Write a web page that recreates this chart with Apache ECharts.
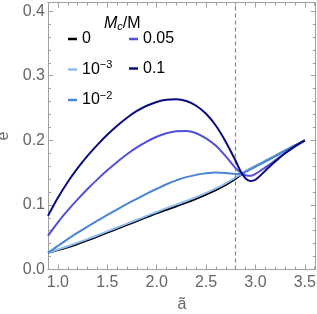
<!DOCTYPE html>
<html><head><meta charset="utf-8">
<script src="https://cdn.jsdelivr.net/npm/echarts@6/dist/echarts.min.js"></script>
<style>html,body{margin:0;padding:0;background:#fff}#c{width:317px;height:314px}</style>
</head><body><div id="c"></div>
<script>
// x values (ã)
const aTilde = [0.9,1.0,1.1,1.2,1.3,1.4,1.5,1.6,1.7,1.8,1.9,2.0,2.1,2.2,2.3,2.4,2.5,2.6,2.7,2.8,2.85,2.9,2.95,3.0,3.1,3.2,3.3,3.4,3.5];
// e values for each Mc/M
const e_0     = [0.026,0.030,0.0345,0.0395,0.045,0.051,0.057,0.063,0.069,0.075,0.081,0.087,0.0925,0.098,0.1035,0.1095,0.116,0.123,0.131,0.1405,0.146,0.152,0.156,0.160,0.168,0.176,0.184,0.192,0.200];
const e_1em3  = [0.026,0.031,0.036,0.0415,0.047,0.053,0.059,0.065,0.071,0.077,0.083,0.089,0.095,0.1005,0.106,0.112,0.1185,0.1255,0.1335,0.1425,0.147,0.152,0.156,0.160,0.168,0.176,0.184,0.192,0.200];
const e_1em2  = [0.026,0.0365,0.047,0.057,0.0665,0.0755,0.0845,0.093,0.1015,0.1095,0.1175,0.125,0.132,0.138,0.143,0.1465,0.149,0.150,0.1495,0.148,0.148,0.151,0.155,0.159,0.167,0.175,0.184,0.192,0.200];
const e_005   = [0.052,0.073,0.0915,0.1085,0.1245,0.1395,0.1535,0.1665,0.1785,0.189,0.198,0.2055,0.211,0.214,0.2145,0.211,0.203,0.1915,0.175,0.157,0.150,0.146,0.145,0.148,0.158,0.169,0.180,0.190,0.200];
const e_01    = [0.083,0.111,0.1355,0.157,0.176,0.193,0.2085,0.2225,0.235,0.2455,0.2535,0.2593,0.2627,0.2635,0.2608,0.2535,0.241,0.2225,0.1975,0.168,0.152,0.141,0.137,0.139,0.153,0.167,0.180,0.191,0.200];
const seriesNames = ['0','1e-3','1e-2','0.05','0.1'];
const seriesLabels = {'0':'0','1e-3':'10{sup|−3}','1e-2':'10{sup|−2}','0.05':'0.05','0.1':'0.1'};
const seriesColors = ['#000000','#8fbdf3','#4a86d6','#5150d9','#0b0b7e'];
const dashedX = 2.8;
const xMajor = [1.0,1.5,2.0,2.5,3.0,3.5];
const xMinor = [0.9,1.0,1.1,1.2,1.3,1.4,1.5,1.6,1.7,1.8,1.9,2.0,2.1,2.2,2.3,2.4,2.5,2.6,2.7,2.8,2.9,3.0,3.1,3.2,3.3,3.4,3.5,3.6];
const yMajor = [0,0.1,0.2,0.3,0.4];
const yMinor = [0,0.02,0.04,0.06,0.08,0.1,0.12,0.14,0.16,0.18,0.2,0.22,0.24,0.26,0.28,0.3,0.32,0.34,0.36,0.38,0.4];
const xMin = 0.9, xMax = 3.61, yMin = 0, yMax = 0.413;

const frame = '#a0a0a0';
const labelColor = '#666666';
const font = 'Liberation Sans';

function axis(kind, pos, vals, len, labels) {
  const ax = {
    type: 'value', position: pos,
    min: kind === 'x' ? xMin : yMin, max: kind === 'x' ? xMax : yMax,
    axisLine: {show: true, onZero: false, lineStyle: {color: frame, width: 1}},
    axisTick: {show: true, inside: true, length: len, customValues: vals, lineStyle: {color: frame, width: 1}},
    splitLine: {show: false},
    axisLabel: {show: false}
  };
  if (labels) {
    ax.axisLabel = {show: true, customValues: vals, color: labelColor, fontSize: 16, fontFamily: font,
      margin: kind === 'x' ? 5 : 3, formatter: v => Number(v).toFixed(1)};
    if (kind === 'x') {
      ax.name = 'ã'; ax.nameLocation = 'middle'; ax.nameGap = 27;
      ax.nameTextStyle = {color: labelColor, fontSize: 16, fontFamily: font};
    } else {
      ax.name = 'e'; ax.nameLocation = 'middle'; ax.nameGap = 35; ax.nameRotate = 90;
      ax.nameTextStyle = {color: labelColor, fontSize: 16, fontFamily: font};
    }
  }
  return ax;
}

const dataSets = [e_0, e_1em3, e_1em2, e_005, e_01];
const series = dataSets.map((arr, i) => ({
  name: seriesNames[i], type: 'line', xAxisIndex: 0, yAxisIndex: 0,
  data: aTilde.map((x, j) => [x, arr[j]]),
  showSymbol: false, smooth: 0.4, color: seriesColors[i],
  lineStyle: {width: 2, color: seriesColors[i]}, z: 2 + i,
  markLine: i === 0 ? {silent: true, symbol: 'none', label: {show: false},
    lineStyle: {color: '#888888', type: [4, 3], width: 1.2},
    data: [{xAxis: dashedX}]} : undefined
}));

const legendRich = {sup: {fontSize: 11, fontFamily: font, color: '#000', verticalAlign: 'bottom', padding: [0, 0, 8, 0], lineHeight: 18}};
function legend(left, data) {
  return {
    left: left, top: 25, orient: 'vertical', itemGap: 11.5, data: data,
    icon: 'rect', itemWidth: 9, itemHeight: 2.5,
    selectedMode: false,
    formatter: n => seriesLabels[n],
    textStyle: {fontSize: 16, fontFamily: font, color: '#000', lineHeight: 18, rich: legendRich}
  };
}

const chart = echarts.init(document.getElementById('c'), null, {renderer: 'canvas'});
chart.setOption({
  animation: false,
  backgroundColor: '#ffffff',
  grid: {left: 48, right: 1.3, top: 2.7, bottom: 44.5, containLabel: false, outerBoundsMode: 'none'},
  title: {
    left: 99, top: 10,
    text: '{i|M}{sub|c}{n|/M}',
    textStyle: {fontWeight: 'normal', rich: {
      i: {fontSize: 16, fontStyle: 'italic', fontWeight: 'normal', fontFamily: font, color: '#000', lineHeight: 18},
      sub: {fontSize: 11, fontStyle: 'italic', fontWeight: 'normal', fontFamily: font, color: '#000', verticalAlign: 'top', padding: [6, 0, 0, 0], lineHeight: 18},
      n: {fontSize: 16, fontWeight: 'normal', fontFamily: font, color: '#000', lineHeight: 18}
    }}
  },
  legend: [legend(63, ['0', '1e-3', '1e-2']), legend(124, ['0.05', '0.1'])],
  xAxis: [
    axis('x', 'bottom', xMajor, 5, true),
    axis('x', 'bottom', xMinor, 3, false),
    axis('x', 'top', xMajor, 5, false),
    axis('x', 'top', xMinor, 3, false)
  ],
  yAxis: [
    axis('y', 'left', yMajor, 5, true),
    axis('y', 'left', yMinor, 3, false),
    axis('y', 'right', yMajor, 5, false),
    axis('y', 'right', yMinor, 3, false)
  ],
  series: series
});
</script>
</body></html>
